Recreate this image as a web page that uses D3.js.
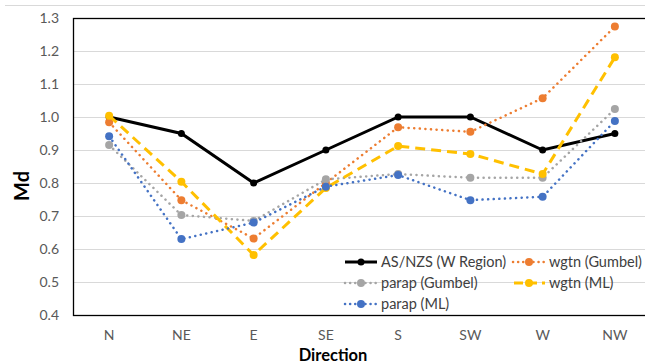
<!DOCTYPE html>
<html>
<head>
<meta charset="utf-8">
<script src="https://cdn.jsdelivr.net/npm/d3@7"></script>
<style>
  body { margin: 0; background: #fff; }
  svg { font-family: Lato, "Open Sans", sans-serif; }
</style>
</head>
<body>
<div class="canvas"></div>
<script>
// data
const directions = ["N", "NE", "E", "SE", "S", "SW", "W", "NW"]
const asnzs = [1.0, 0.95, 0.8, 0.9, 1.0, 1.0, 0.9, 0.95]
const wgtnGumbel = [0.984, 0.748, 0.632, 0.80, 0.969, 0.955, 1.057, 1.274]
const parapGumbel = [0.915, 0.703, 0.685, 0.811, 0.827, 0.816, 0.816, 1.024]
const wgtnML = [1.004, 0.804, 0.582, 0.785, 0.912, 0.888, 0.827, 1.181]
const parapML = [0.942, 0.630, 0.680, 0.789, 0.824, 0.748, 0.758, 0.988]
const yTicks = [0.4, 0.5, 0.6, 0.7, 0.8, 0.9, 1.0, 1.1, 1.2, 1.3]

const series = [
  { name: "AS/NZS (W Region)", values: asnzs, color: "#000000", width: 3, dash: null, r: 3.5 },
  { name: "wgtn (Gumbel)", values: wgtnGumbel, color: "#ed7d31", width: 2.5, dash: "0.1 5.5", r: 4 },
  { name: "parap (Gumbel)", values: parapGumbel, color: "#a5a5a5", width: 2.5, dash: "0.1 5.5", r: 4 },
  { name: "wgtn (ML)", values: wgtnML, color: "#ffc000", width: 3, dash: "10 6", r: 4 },
  { name: "parap (ML)", values: parapML, color: "#4472c4", width: 2.5, dash: "0.1 5.5", r: 4 }
]

/**
 * Dimension setup
 */
const W = 645, H = 364
const plot = { left: 73, top: 18, right: 651, bottom: 315 }

const svg = d3.select(".canvas")
  .append("svg")
  .attr("width", W)
  .attr("height", H)

// outer chart border (top edge visible)
svg.append("line")
  .attr("x1", 5).attr("x2", W).attr("y1", 5.5).attr("y2", 5.5)
  .attr("stroke", "#d9d9d9").attr("stroke-width", 1)

const x = d3.scaleBand()
  .domain(directions)
  .range([plot.left, plot.right])

const y = d3.scaleLinear()
  .domain([0.4, 1.3])
  .range([plot.bottom, plot.top])

// gridlines
svg.append("g")
  .selectAll("line")
  .data(yTicks)
  .join("line")
    .attr("x1", plot.left).attr("x2", plot.right)
    .attr("y1", d => Math.round(y(d)) + 0.5).attr("y2", d => Math.round(y(d)) + 0.5)
    .attr("stroke", "#d9d9d9")

// y axis labels
const yAxis = svg.append("g")
  .attr("transform", `translate(${plot.left - 5},0)`)
  .call(d3.axisLeft(y).tickValues(yTicks).tickFormat(d3.format(".1f")).tickSize(0).tickPadding(9))
yAxis.select(".domain").remove()
yAxis.selectAll("text")
  .attr("font-size", 14).attr("fill", "#595959")
  .attr("font-family", "Lato, sans-serif")

// x axis labels
const xAxis = svg.append("g")
  .attr("transform", `translate(0,${plot.bottom + 10})`)
  .call(d3.axisBottom(x).tickSize(0).tickPadding(5))
xAxis.select(".domain").remove()
xAxis.selectAll("text")
  .attr("font-size", 14).attr("fill", "#595959")
  .attr("font-family", "Lato, sans-serif")

// plot border
svg.append("rect")
  .attr("x", plot.left + 0.5).attr("y", plot.top + 0.5)
  .attr("width", plot.right - plot.left).attr("height", plot.bottom - plot.top)
  .attr("fill", "none").attr("stroke", "#000").attr("stroke-width", 1.3)

// axis titles
svg.append("text")
  .attr("transform", `translate(29,186) rotate(-90)`)
  .attr("text-anchor", "middle")
  .attr("font-size", 20).attr("font-weight", "bold").attr("fill", "#000")
  .text("Md")

svg.append("text")
  .attr("x", 333).attr("y", 361)
  .attr("text-anchor", "middle")
  .attr("font-size", 16.5).attr("font-weight", "bold").attr("fill", "#000")
  .text("Direction")

/**
 * Lines
 */
const line = d3.line()
  .x((d, i) => x(directions[i]) + x.bandwidth() / 2)
  .y(d => y(d))

series.forEach(s => {
  const g = svg.append("g")
  g.append("path")
    .datum(s.values)
    .attr("d", line)
    .attr("fill", "none")
    .attr("stroke", s.color)
    .attr("stroke-width", s.width)
    .attr("stroke-linecap", s.dash && s.dash.startsWith("0.1") ? "round" : "butt")
    .attr("stroke-dasharray", s.dash)
  g.selectAll("circle")
    .data(s.values)
    .join("circle")
      .attr("cx", (d, i) => x(directions[i]) + x.bandwidth() / 2)
      .attr("cy", d => y(d))
      .attr("r", s.r)
      .attr("fill", s.color)
})

/**
 * Legend
 */
const legendPos = [
  { x: 345, y: 262 }, { x: 513, y: 262 },
  { x: 345, y: 283 }, { x: 513, y: 283 },
  { x: 345, y: 304 }
]
const legend = svg.append("g")
series.forEach((s, i) => {
  const p = legendPos[i]
  const g = legend.append("g").attr("transform", `translate(${p.x},${p.y})`)
  g.append("line")
    .attr("x1", 0).attr("x2", 32).attr("y1", 0).attr("y2", 0)
    .attr("stroke", s.color)
    .attr("stroke-width", s.width)
    .attr("stroke-linecap", s.dash && s.dash.startsWith("0.1") ? "round" : "butt")
    .attr("stroke-dasharray", s.dash ? (s.dash.startsWith("0.1") ? "0.1 5" : "9 5") : null)
    .attr("stroke-dashoffset", s.dash && !s.dash.startsWith("0.1") ? -1 : null)
  g.append("circle").attr("cx", 16).attr("cy", 0).attr("r", s.r).attr("fill", s.color)
  g.append("text")
    .attr("x", 36).attr("y", 0).attr("dy", "0.35em")
    .attr("font-size", 14.5).attr("fill", "#404040")
    .text(s.name)
})
</script>
</body>
</html>
